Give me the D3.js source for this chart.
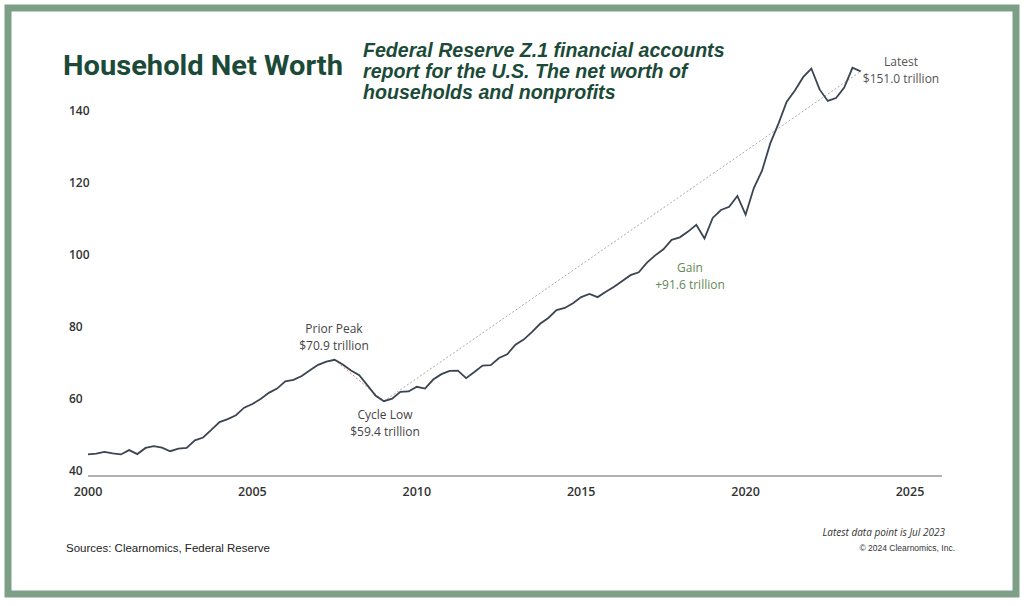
<!DOCTYPE html>
<html lang="en">
<head>
<meta charset="utf-8">
<script src="https://cdn.jsdelivr.net/npm/d3@7"></script>
<style>
  body { margin: 0; background: #fff; }
  text { font-family: "Open Sans", "Noto Sans", sans-serif; }
  .sans { font-family: "Liberation Sans", Arial, sans-serif; }
  .title { font-family: Roboto, sans-serif; }
</style>
</head>
<body>
<svg id="chart" width="1024" height="606"></svg>
<script>
// quarterly net worth, trillions of dollars, 2000 Q1 .. 2023 Q3
var startYear = 2000;
var netWorth = [
  44.6, 44.8, 45.3, 44.9, 44.6, 45.8, 44.7, 46.4,
  46.9, 46.5, 45.5, 46.2, 46.4, 48.5, 49.3, 51.4,
  53.6, 54.4, 55.5, 57.6, 58.6, 60.0, 61.7, 62.9,
  64.9, 65.3, 66.4, 68.0, 69.5, 70.4, 70.9, 69.6,
  67.9, 66.6, 63.8, 60.9, 59.4, 60.1, 62.0, 62.1,
  63.4, 62.9, 65.4, 66.9, 67.8, 67.9, 65.8, 67.5,
  69.3, 69.4, 71.4, 72.4, 75.1, 76.5, 78.6, 80.9,
  82.5, 84.7, 85.3, 86.6, 88.3, 89.2, 88.3, 89.8,
  91.2, 92.8, 94.4, 95.2, 97.9, 99.9, 101.6, 104.2,
  104.9, 106.5, 108.4, 104.6, 110.3, 112.5, 113.4, 116.4,
  111.2, 118.6, 123.4, 131.0, 136.5, 142.6, 145.7, 149.4,
  151.8, 146.0, 142.8, 143.6, 146.5, 152.0, 151.0
];
var yTicks = [40, 60, 80, 100, 120, 140];
var xTicks = [2000, 2005, 2010, 2015, 2020, 2025];
var peak = { year: 2007.5, value: 70.9 };
var low = { year: 2009, value: 59.4 };
var latest = { year: 2023.5, value: 151.0 };

var data = netWorth.map(function (v, i) { return { year: startYear + i * 0.25, value: v }; });

var svg = d3.select("#chart");
var x = d3.scaleLinear().domain([2000, 2025]).range([88, 910]);
var y = d3.scaleLinear().domain([40, 140]).range([471, 111]);

// frame
svg.append("rect").attr("x", 8).attr("y", 8).attr("width", 1008).attr("height", 586)
  .attr("fill", "none").attr("stroke", "#7d9f86").attr("stroke-width", 7);

// title + subtitle
svg.append("text").attr("class", "title").attr("x", 63).attr("y", 75).text("Household Net Worth")
  .attr("font-size", 27).attr("font-weight", "bold").attr("fill", "#1c4a38")
  .attr("textLength", 280).attr("lengthAdjust", "spacingAndGlyphs");
var sub = ["Federal Reserve Z.1 financial accounts", "report for the U.S. The net worth of", "households and nonprofits"];
sub.forEach(function (s, i) {
  svg.append("text").attr("class", "sans").attr("x", 363).attr("y", 57 + i * 21).text(s)
    .attr("font-size", 19.6).attr("font-style", "italic").attr("font-weight", "bold").attr("fill", "#1c4a38");
});

// axes
svg.append("line").attr("x1", 88).attr("x2", 942).attr("y1", 476).attr("y2", 476)
  .attr("stroke", "#999").attr("stroke-width", 1.5);
svg.selectAll(".yt").data(yTicks).enter().append("text")
  .attr("x", 69).attr("y", function (d) { return y(d) + 4; })
  .attr("font-size", 12).attr("font-weight", 600).attr("fill", "#333").text(function (d) { return d; });
svg.selectAll(".xt").data(xTicks).enter().append("text")
  .attr("x", function (d) { return x(d); }).attr("y", 496).attr("text-anchor", "middle")
  .attr("font-size", 12.5).attr("font-weight", 600).attr("fill", "#333").text(function (d) { return d; });

// trend lines
svg.append("line").attr("x1", x(peak.year)).attr("y1", y(peak.value)).attr("x2", x(low.year)).attr("y2", y(low.value))
  .attr("stroke", "#e08080").attr("stroke-width", 1).attr("stroke-dasharray", "2,2");
svg.append("line").attr("x1", x(low.year)).attr("y1", y(low.value)).attr("x2", x(latest.year)).attr("y2", y(latest.value))
  .attr("stroke", "#aaa").attr("stroke-width", 1).attr("stroke-dasharray", "2,2");

// main line
svg.append("path").datum(data)
  .attr("d", d3.line().x(function (d) { return x(d.year); }).y(function (d) { return y(d.value); }))
  .attr("fill", "none").attr("stroke", "#3b4552").attr("stroke-width", 1.8);

// annotations
function note(lines, cx, cy, color) {
  lines.forEach(function (s, i) {
    svg.append("text").attr("x", cx).attr("y", cy + i * 17).attr("text-anchor", "middle")
      .attr("font-size", 12).attr("fill", color).text(s);
  });
}
note(["Prior Peak", "$70.9 trillion"], 334, 333, "#444");
note(["Cycle Low", "$59.4 trillion"], 385, 419, "#444");
note(["Gain", "+91.6 trillion"], 690, 272, "#5f8a55");
note(["Latest", "$151.0 trillion"], 901, 66, "#555");

// footer
svg.append("text").attr("class", "sans").attr("x", 66).attr("y", 552).text("Sources: Clearnomics, Federal Reserve")
  .attr("font-size", 11.5).attr("fill", "#222");
svg.append("text").attr("x", 945).attr("y", 536).attr("text-anchor", "end").text("Latest data point is Jul 2023")
  .attr("font-size", 10).attr("font-style", "italic").attr("fill", "#333");
svg.append("text").attr("class", "sans").attr("x", 955).attr("y", 551).attr("text-anchor", "end").text("© 2024 Clearnomics, Inc.")
  .attr("font-size", 8.5).attr("fill", "#333");
</script>
</body>
</html>
